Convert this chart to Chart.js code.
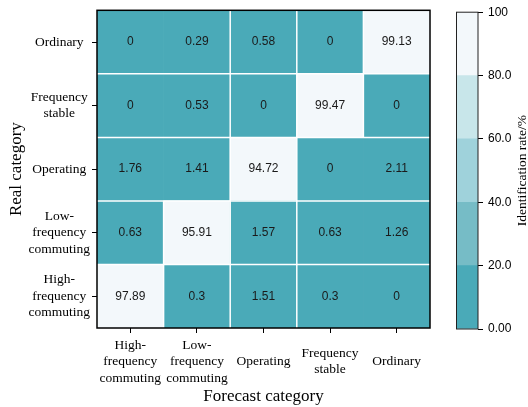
<!DOCTYPE html>
<html>
<head>
<meta charset="utf-8">
<script src="https://cdn.jsdelivr.net/npm/chart.js@4.4.1/dist/chart.umd.min.js"></script>
<style>
  body { margin: 0; background: #fff; }
  #wrap { position: relative; width: 528px; height: 407px; }
  #wrap canvas { position: absolute; top: 0; }
</style>
</head>
<body>
<div id="wrap">
  <canvas id="heatChart" width="440" height="407" style="left:0"></canvas>
  <canvas id="barChart" width="88" height="407" style="left:440px"></canvas>
</div>
<script>
// categories
var forecastCategories = [["High-", "frequency", "commuting"], ["Low-", "frequency", "commuting"], "Operating", ["Frequency", "stable"], "Ordinary"];
// real categories, top row first
var realCategories = ["Ordinary", ["Frequency", "stable"], "Operating", ["Low-", "frequency", "commuting"], ["High-", "frequency", "commuting"]];

// identification rate (%) per real category, columns follow forecastCategories
var rateOrdinary = [0, 0.29, 0.58, 0, 99.13];
var rateFrequencyStable = [0, 0.53, 0, 99.47, 0];
var rateOperating = [1.76, 1.41, 94.72, 0, 2.11];
var rateLowFrequency = [0.63, 95.91, 1.57, 0.63, 1.26];
var rateHighFrequency = [97.89, 0.3, 1.51, 0.3, 0];

// colour bar
var levelBounds = [0, 20, 40, 60, 80, 100];
var levelColors = ["#4aaab8", "#76bcc6", "#9fd2db", "#c8e6ea", "#f3f8fb"];
var colorbarTicks = [0, 20, 40, 60, 80, 100];
var colorbarTickLabels = ["0.00", "20.0", "40.0", "60.0", "80.0", "100"];

var serif = "'Liberation Serif', 'Times New Roman', serif";
var sans = "'Liberation Sans', Arial, sans-serif";

var rates = [rateOrdinary, rateFrequencyStable, rateOperating, rateLowFrequency, rateHighFrequency];
var ratesBottomUp = rates.slice().reverse();
var realBottomUp = realCategories.slice().reverse();

function levelColor(v) {
  for (var k = levelBounds.length - 2; k >= 0; k--) {
    if (v >= levelBounds[k]) return levelColors[k];
  }
  return levelColors[0];
}
function isLight(v) {
  return v >= levelBounds[levelBounds.length - 2];
}

var datasets = ratesBottomUp.map(function (row, r) {
  return {
    label: "row" + r,
    data: row.map(function () { return 1; }),
    backgroundColor: row.map(levelColor),
    borderWidth: 0,
    barPercentage: 1,
    categoryPercentage: 1
  };
});

var cellPlugin = {
  id: "cells",
  afterDatasetsDraw: function (chart) {
    var ctx = chart.ctx;
    var xs = chart.scales.x, ys = chart.scales.y;
    var area = chart.chartArea;
    var n = forecastCategories.length;
    ctx.save();
    // white separators
    ctx.strokeStyle = "#ffffff";
    ctx.lineWidth = 1.5;
    for (var r = 1; r < ratesBottomUp.length; r++) {
      var py = ys.getPixelForValue(r);
      ctx.beginPath();
      ctx.moveTo(area.left, py);
      ctx.lineTo(area.right, py);
      ctx.stroke();
    }
    for (var r2 = 0; r2 < ratesBottomUp.length; r2++) {
      var row = ratesBottomUp[r2];
      for (var c = 1; c < n; c++) {
        if (c === 2 || c === 3 || isLight(row[c - 1]) || isLight(row[c])) {
          var px = (xs.getPixelForValue(c - 1) + xs.getPixelForValue(c)) / 2;
          ctx.beginPath();
          ctx.moveTo(px, ys.getPixelForValue(r2));
          ctx.lineTo(px, ys.getPixelForValue(r2 + 1));
          ctx.stroke();
        }
      }
    }
    // values
    ctx.fillStyle = "#1a1a1a";
    ctx.font = "12px " + sans;
    ctx.textAlign = "center";
    ctx.textBaseline = "middle";
    chart.data.datasets.forEach(function (ds, d) {
      var meta = chart.getDatasetMeta(d);
      meta.data.forEach(function (el, i) {
        ctx.fillText(String(ratesBottomUp[d][i]), el.x, (el.y + el.base) / 2);
      });
    });
    // frame
    ctx.strokeStyle = "#000";
    ctx.lineWidth = 1.5;
    ctx.strokeRect(area.left, area.top, area.right - area.left, area.bottom - area.top);
    ctx.restore();
  }
};

new Chart(document.getElementById("heatChart"), {
  type: "bar",
  data: { labels: forecastCategories, datasets: datasets },
  options: {
    responsive: false,
    animation: false,
    layout: { padding: { left: 0, right: 10, top: 7, bottom: 0 } },
    plugins: { legend: { display: false }, tooltip: { enabled: false } },
    scales: {
      x: {
        stacked: true,
        offset: true,
        afterFit: function (scale) { scale.height = 79; },
        grid: { offset: false, drawOnChartArea: false, tickLength: 5, color: "#000" },
        border: { display: false },
        ticks: {
          autoSkip: false, maxRotation: 0, minRotation: 0, padding: 12, crossAlign: "center",
          color: "#000", font: { family: serif, size: 13.5, lineHeight: 1.23 }
        },
        title: {
          display: true, text: "Forecast category", color: "#000",
          font: { family: serif, size: 17 }, padding: { top: 0, bottom: 0 }
        }
      },
      y: {
        type: "linear",
        stacked: true,
        min: 0,
        max: realCategories.length,
        afterBuildTicks: function (scale) {
          scale.ticks = realBottomUp.map(function (_, i) { return { value: i + 0.5 }; });
        },
        afterFit: function (scale) { scale.width = 97; },
        grid: { drawOnChartArea: false, tickLength: 5, color: "#000" },
        border: { display: false },
        ticks: {
          autoSkip: false, padding: 2, crossAlign: "center",
          color: "#000", font: { family: serif, size: 13.5, lineHeight: 1.23 },
          callback: function (v) { return realBottomUp[Math.floor(v)]; }
        },
        title: {
          display: true, text: "Real category", color: "#000",
          font: { family: serif, size: 17 }, padding: { top: 6, bottom: 0 }
        }
      }
    }
  },
  plugins: [cellPlugin]
});

var colorbarPlugin = {
  id: "colorbarFrame",
  afterDraw: function (chart) {
    var ctx = chart.ctx;
    var area = chart.chartArea;
    ctx.save();
    ctx.strokeStyle = "#222";
    ctx.lineWidth = 1;
    ctx.strokeRect(area.left + 0.5, area.top, area.right - area.left - 0.5, area.bottom - area.top);
    ctx.translate(82, (area.top + area.bottom) / 2);
    ctx.rotate(-Math.PI / 2);
    ctx.fillStyle = "#000";
    ctx.font = "13.5px " + serif;
    ctx.textAlign = "center";
    ctx.textBaseline = "middle";
    ctx.fillText("Identification rate/%", 0, 0);
    ctx.restore();
  }
};

new Chart(document.getElementById("barChart"), {
  type: "bar",
  data: {
    labels: [""],
    datasets: levelColors.map(function (c, k) {
      return {
        data: [levelBounds[k + 1] - levelBounds[k]],
        backgroundColor: c,
        borderWidth: 0,
        barPercentage: 1,
        categoryPercentage: 1
      };
    })
  },
  options: {
    responsive: false,
    animation: false,
    layout: { padding: { left: 16, right: 0, top: 9, bottom: 78 } },
    plugins: { legend: { display: false }, tooltip: { enabled: false } },
    scales: {
      x: { display: false, stacked: true },
      y: {
        position: "right",
        stacked: true,
        min: levelBounds[0],
        max: levelBounds[levelBounds.length - 1],
        afterBuildTicks: function (scale) {
          scale.ticks = colorbarTicks.map(function (v) { return { value: v }; });
        },
        afterFit: function (scale) { scale.width = 50; },
        grid: { drawOnChartArea: false, tickLength: 5, color: "#000" },
        border: { display: false },
        ticks: {
          padding: 5, color: "#000", font: { family: sans, size: 12 },
          callback: function (v) { return colorbarTickLabels[colorbarTicks.indexOf(v)]; }
        }
      }
    }
  },
  plugins: [colorbarPlugin]
});
</script>
</body>
</html>
